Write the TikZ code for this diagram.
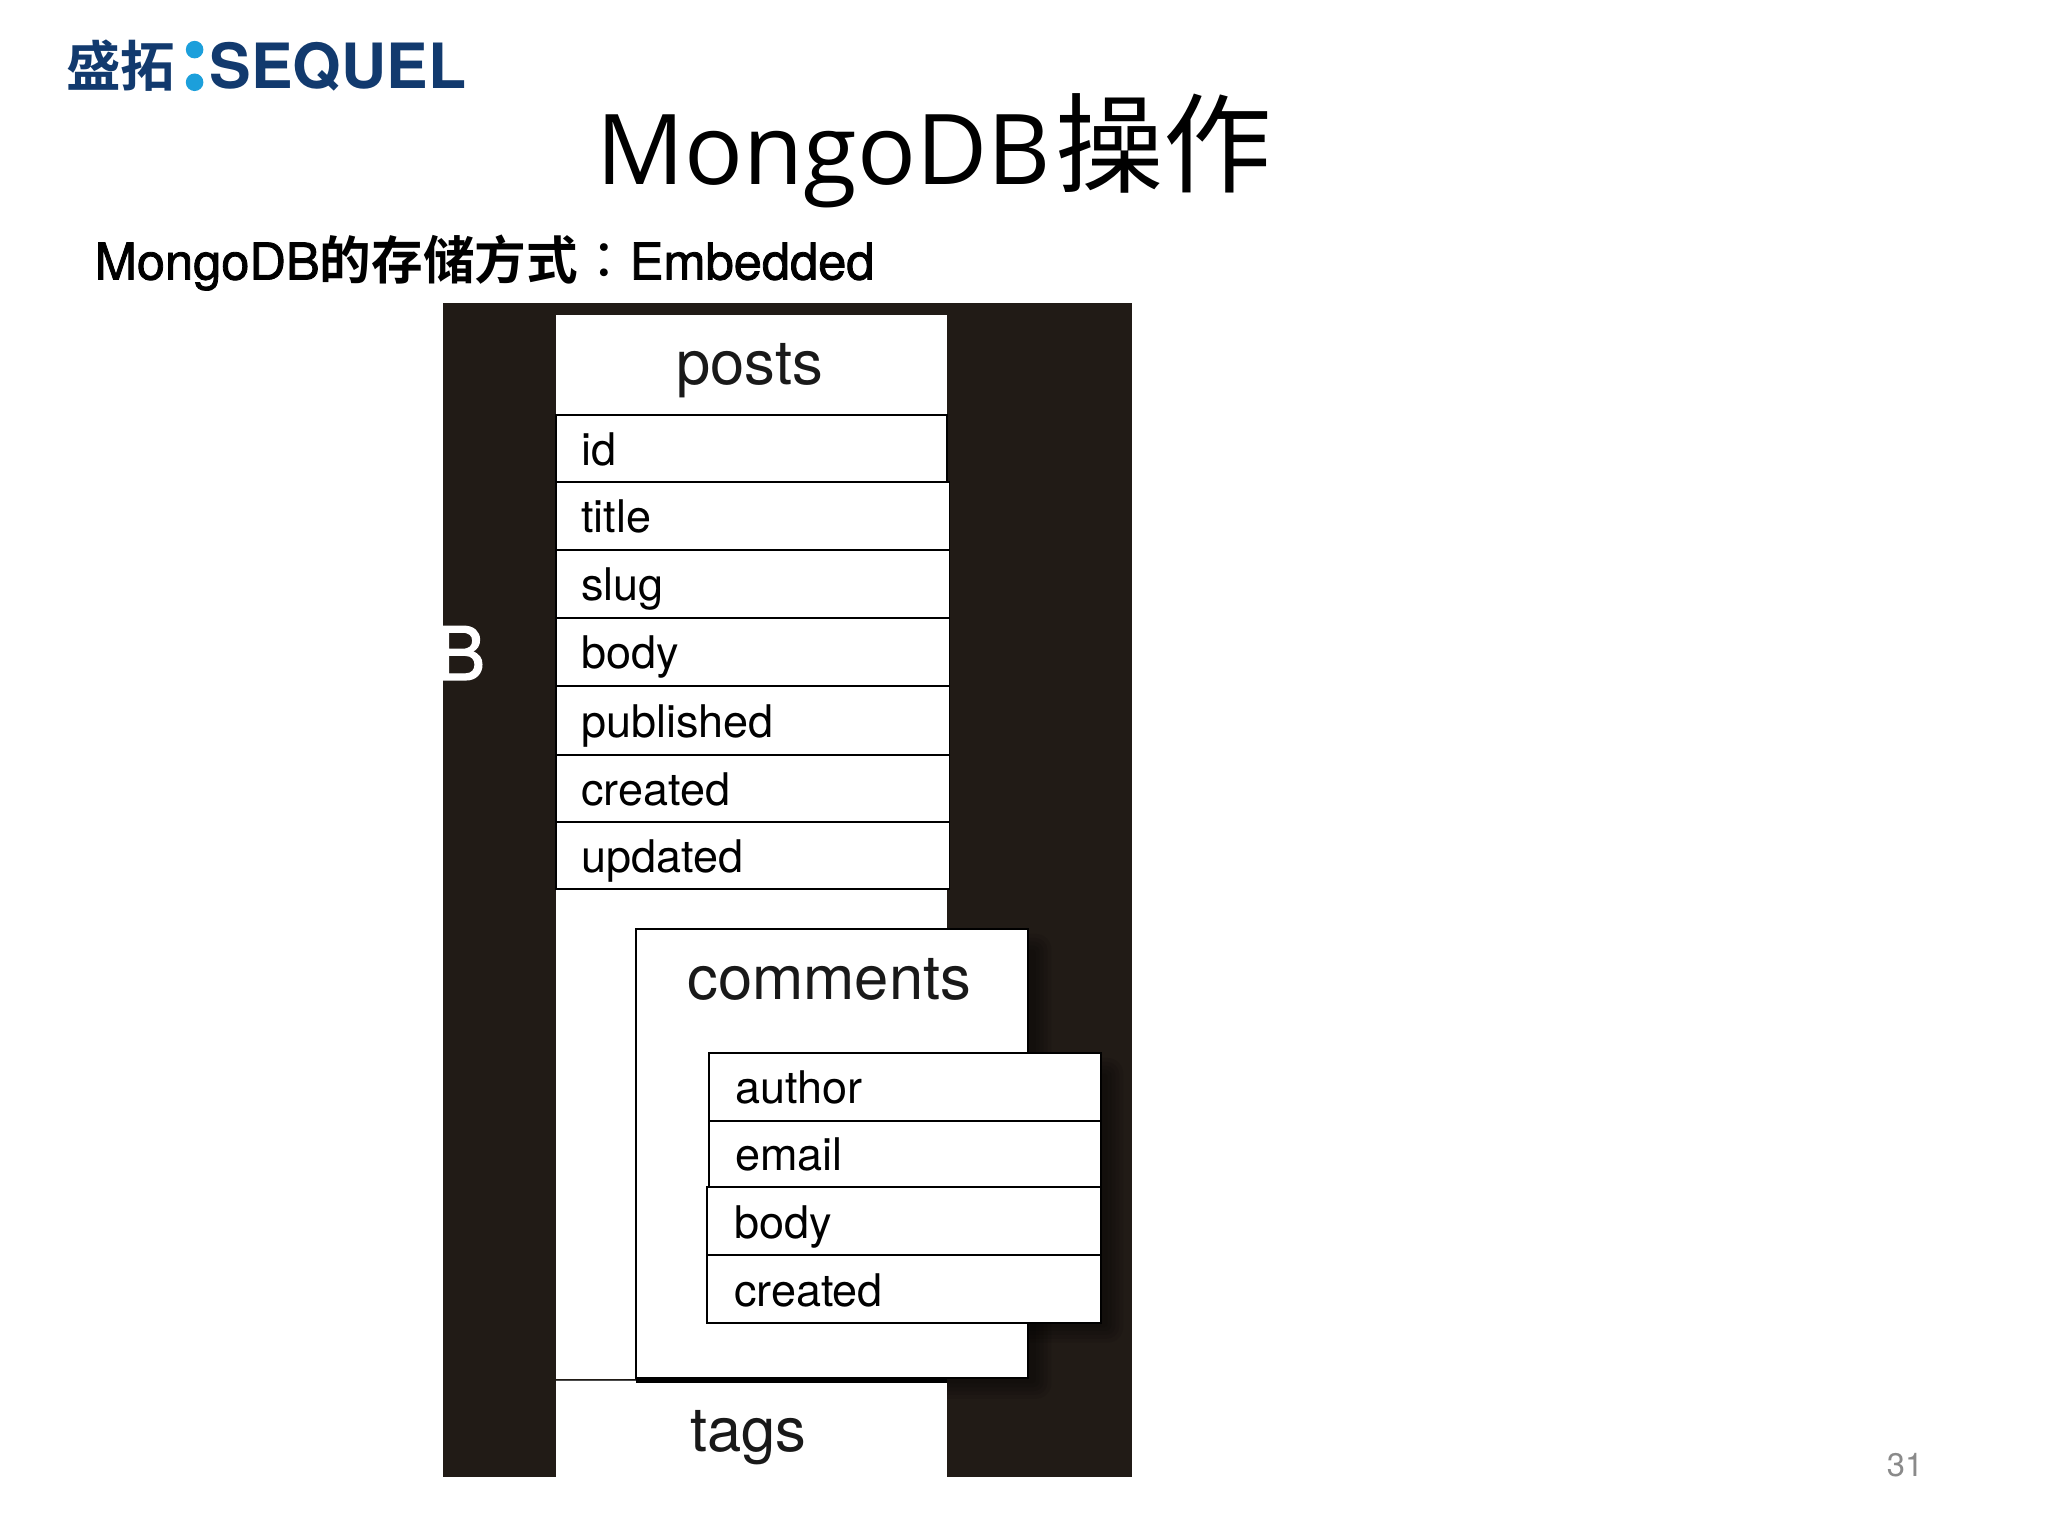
\documentclass[tikz,border=0pt]{standalone}
\usepackage{fontspec}
\setmainfont{TeX Gyre Heros}
\newfontfamily\cjkreg{Noto Sans CJK SC}
\newfontfamily\cjkbold{Noto Sans CJK SC Bold}
\newfontfamily\cjktc{Noto Sans CJK TC}
\newfontfamily\titlefont{Open Sans}
\newfontfamily\subfont[FakeBold=1.6]{TeX Gyre Heros}
\definecolor{darkbg}{HTML}{211B16}
\definecolor{navy}{HTML}{123A6E}
\definecolor{sky}{HTML}{1C9FDB}
\definecolor{numgray}{HTML}{8A8A8A}
\tikzset{
  x=0.013061cm, y=-0.013061cm,
  fieldbox/.style={draw=black, line width=0.55pt, fill=white, anchor=north west, inner sep=0pt, outer sep=0pt, align=left, text height=10.8pt, text depth=1.2pt, font=\fontsize{12.8}{14}\selectfont},
  panelbox/.style={fill=white, anchor=north west, inner sep=0pt, outer sep=0pt},
  headlabel/.style={inner sep=0pt, font=\fontsize{17.5}{20}\selectfont, text=black!90}
}
% field row: name, position, width, height, left pad, text
\newcommand{\fieldrow}[6]{%
  \node[fieldbox, minimum width=#3*0.3716pt, minimum height=#4*0.3716pt, text width=#3*0.3716pt] (#1) at #2 {\hspace*{#5\dimexpr0.3716pt\relax}#6};%
}
% soft shadow: nested translucent rectangles
\newcommand{\softrect}[4]{%
  \foreach \g in {3,6,...,15} {\fill[black, opacity=0.09, rounded corners=\g*0.3pt] (#1-\g,#2-\g) rectangle (#3+\g,#4+\g);}%
}
\begin{document}
\begin{tikzpicture}
\useasboundingbox (0,0) rectangle (1568,1176);
\fill[white] (0,0) rectangle (1568,1176);
\fill[darkbg] (339,232) rectangle (867,1131);
\begin{scope}
  \clip (339,232) rectangle (867,1131);
  \node[anchor=east, inner sep=0pt, text=white, font=\subfont\fontsize{21}{24}\selectfont] (clipB) at (372,500) {B};
  \softrect{490}{730}{790}{1056}
  \softrect{546}{825}{845}{1013}
\end{scope}

% logo
\node[anchor=west, inner sep=0pt, text=navy, font=\cjkbold\fontsize{15.5}{18}\selectfont] (logoa) at (50,50) {盛拓};
\node[circle, fill=sky, minimum size=5pt, inner sep=0pt] (dota) at (149,38) {};
\node[circle, fill=sky, minimum size=5pt, inner sep=0pt] (dotb) at (149,63) {};
\node[anchor=base west, inner sep=0pt, text=navy, font=\bfseries\fontsize{17.75}{22}\selectfont] (logob) at (160,68) {SEQUEL};

% titles
\node[anchor=base west, inner sep=0pt, text=black, font=\titlefont\fontsize{27.8}{34}\selectfont] (title) at (456,141) {MongoDB\hspace{1.4pt}{\cjkreg\fontsize{30.8}{34}\selectfont 操作}};
\node[anchor=base west, inner sep=0pt, text=black, font=\subfont\fontsize{14.4}{17}\selectfont] (subtitle) at (72,214) {MongoDB{\cjkbold\fontsize{14.7}{17}\selectfont 的存储方式}{\cjktc\fontsize{14.7}{17}\selectfont ：}Embedded};

% posts
\node[panelbox, minimum width=299*0.3716pt, minimum height=77*0.3716pt] (posts) at (426,241) {};
\node[headlabel] (postslabel) at (574,284) {posts};
\fieldrow{fid}{(426,318)}{299}{51}{19}{id}
\fieldrow{ftitle}{(426,369)}{301}{52}{19}{title}
\fieldrow{fslug}{(426,421)}{301}{52}{19}{slug}
\fieldrow{fbody}{(426,473)}{301}{52}{19}{body}
\fieldrow{fpub}{(426,525)}{301}{53}{19}{published}
\fieldrow{fcre}{(426,578)}{301}{51}{19}{created}
\fieldrow{fupd}{(426,629)}{301}{52}{19}{updated}

% posts body
\node[panelbox, minimum width=299*0.3716pt, minimum height=375*0.3716pt] (postsbody) at (426,681) {};
\draw[line width=0.55pt] (postsbody.north west) -- (postsbody.north east);

% tags
\node[panelbox, minimum width=299*0.3716pt, minimum height=74*0.3716pt] (tags) at (426,1057) {};
\draw[line width=0.4pt, black!70] (tags.north west) -- ++(61,0) coordinate (tagsbreak);
\draw[line width=1.3pt] (tagsbreak) -- (tags.north east);
\node[headlabel] (tagslabel) at (573,1101) {tags};

% comments
\node[panelbox, draw=black, line width=0.55pt, minimum width=300*0.3716pt, minimum height=344*0.3716pt] (comments) at (487,711) {};
\node[headlabel] (commentslabel) at (635,750) {comments};

% comment fields
\fieldrow{cauth}{(543,806)}{300}{52}{20}{author}
\fieldrow{cmail}{(543,858)}{300}{51}{20}{email}
\fieldrow{cbody}{(541,909)}{302}{52}{21}{body}
\fieldrow{ccre}{(541,961)}{302}{52}{21}{created}

% page number
\node[anchor=east, inner sep=0pt, text=numgray, font=\fontsize{9.3}{11}\selectfont] (pagenum) at (1473,1122) {31};
\end{tikzpicture}
\end{document}
